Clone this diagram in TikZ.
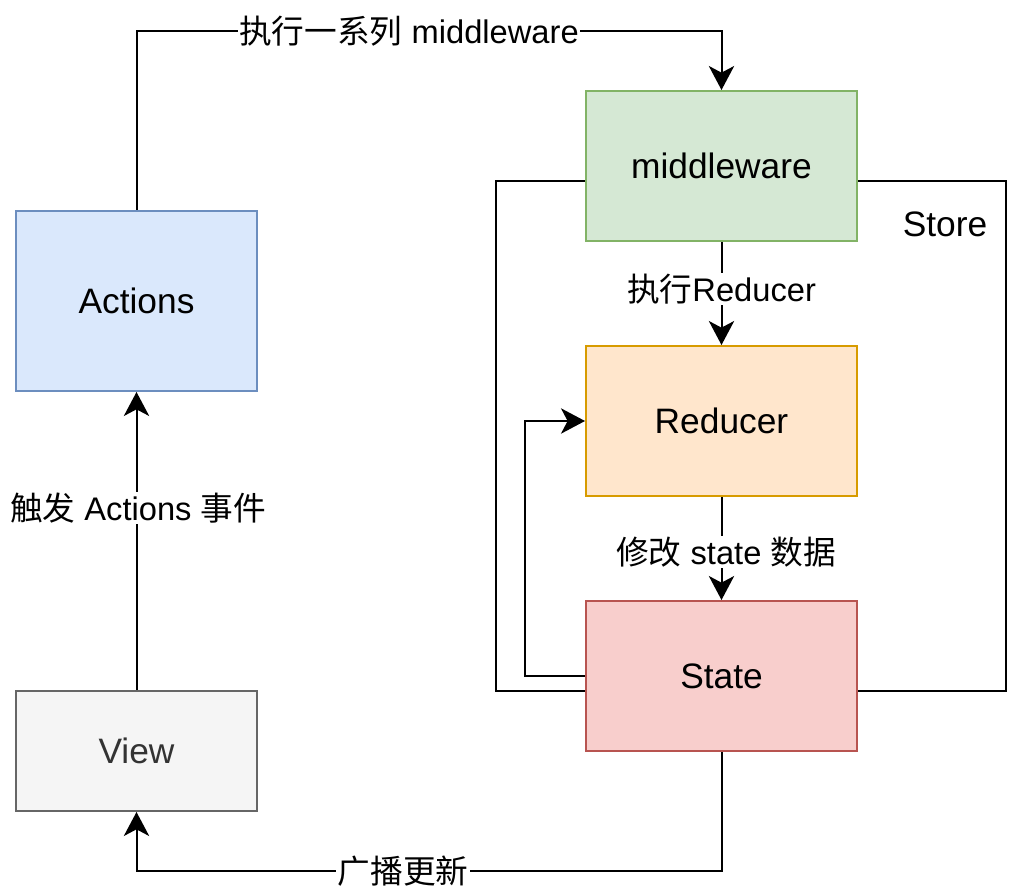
\documentclass[tikz,border=0pt]{standalone}
\usepackage{fontspec}
\setmainfont{Liberation Sans}
\newfontfamily\cjk{Noto Sans CJK SC}
\usetikzlibrary{arrows.meta}
\definecolor{bfill}{HTML}{DAE8FC}\definecolor{bline}{HTML}{6C8EBF}
\definecolor{gfill}{HTML}{D5E8D4}\definecolor{gline}{HTML}{82B366}
\definecolor{ofill}{HTML}{FFE6CC}\definecolor{oline}{HTML}{D79B00}
\definecolor{rfill}{HTML}{F8CECC}\definecolor{rline}{HTML}{B85450}
\definecolor{vfill}{HTML}{F5F5F5}\definecolor{vline}{HTML}{666666}
\definecolor{vtext}{HTML}{333333}
\tikzset{
  box/.style={draw, line width=1.5pt, rectangle, inner sep=0pt, font=\fontsize{26.5pt}{30pt}\selectfont},
  wide/.style={minimum width=203.25pt, minimum height=112.5pt},
  side/.style={minimum width=180.75pt},
  arr/.style={line width=1.5pt, -{Stealth[length=18pt,width=19pt,inset=5pt]}},
  wire/.style={line width=1.5pt},
  lbl/.style={fill=white, inner sep=1pt, font=\fontsize{24.5pt}{28pt}\selectfont}
}
\begin{document}
\begin{tikzpicture}[x=0.75pt,y=-0.75pt]
\useasboundingbox (0,0) rectangle (1029,888);
% Store frame
\node[draw, line width=1.5pt, minimum width=382.5pt, minimum height=382.5pt, inner sep=0pt] (store) at (751,436) {};
\node[font=\fontsize{26.5pt}{30pt}\selectfont, inner sep=0pt] (storelbl) at (945,224) {Store};
% boxes
\node[box, side, minimum height=135pt, fill=bfill, draw=bline] (actions) at (136.5,301) {Actions};
\node[box, side, minimum height=90pt, fill=vfill, draw=vline, text=vtext] (view) at (136.5,751) {View};
\node[box, wide, fill=gfill, draw=gline] (mw) at (721.5,166) {middleware};
\node[box, wide, fill=ofill, draw=oline] (red) at (721.5,421) {Reducer};
\node[box, wide, fill=rfill, draw=rline] (state) at (721.5,676) {State};
% connectors
\draw[arr] (actions.north) -- (actions.north |- 0,31) -- (mw.north |- 0,31) -- (mw.north);
\node[lbl] (l1) at (409,31) {{\cjk 执行一系列} middleware};
\draw[arr] (mw.south) -- (red.north);
\node[lbl] (l2) at (721.5,289) {{\cjk 执行}Reducer};
\draw[arr] (red.south) -- (state.north);
\node[lbl] (l3) at (726,552) {{\cjk 修改} state {\cjk 数据}};
\draw[arr] (state.west) -- ++(-60,0) |- (red.west);
\draw[arr] (view.north) -- (actions.south);
\node[lbl] (l4) at (138,508) {{\cjk 触发} Actions {\cjk 事件}};
\draw[arr] (state.south) -- (state.south |- 0,871) -| (view.south);
\node[lbl] (l5) at (403,871) {{\cjk 广播更新}};
\end{tikzpicture}
\end{document}
